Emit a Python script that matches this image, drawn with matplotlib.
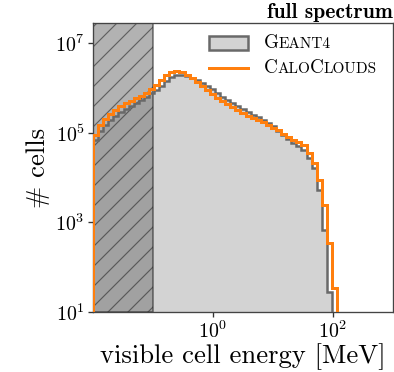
import numpy as np
import matplotlib
matplotlib.use("Agg")
import matplotlib.pyplot as plt
from matplotlib.patches import Patch
from matplotlib.lines import Line2D
from matplotlib.offsetbox import TextArea, HPacker, AnnotationBbox

plt.rcParams["font.family"] = "cmr10"
plt.rcParams["mathtext.fontset"] = "cm"
plt.rcParams["axes.unicode_minus"] = False
plt.rcParams["axes.formatter.use_mathtext"] = True
plt.rcParams["hatch.linewidth"] = 0.7

# log-spaced energy binning [MeV]
bin_edges = np.logspace(-2, 3, 60)

# cell counts per bin
geant4_counts = [
    6.9e4, 1.1e5, 1.48e5, 1.95e5, 2.4e5, 2.95e5, 3.4e5, 4.0e5, 4.7e5, 5.4e5,
    6.3e5, 7.8e5, 9.1e5, 1.12e6, 1.45e6, 1.78e6, 1.95e6, 1.95e6, 1.86e6, 1.66e6,
    1.5e6, 1.29e6, 1.12e6, 9.5e5, 7.8e5, 6.3e5, 5.4e5, 4.7e5, 4.0e5, 3.4e5,
    2.95e5, 2.5e5, 2.2e5, 1.95e5, 1.66e5, 1.41e5, 1.1e5, 8.9e4, 7.4e4, 6.0e4,
    5.1e4, 4.2e4, 2.75e4, 1.6e4, 5.4e3, 680, 28,
]
calo_counts = [
    8.9e4, 1.5e5, 2.0e5, 2.6e5, 3.2e5, 4.0e5, 4.7e5, 5.1e5, 6.0e5, 6.6e5,
    7.8e5, 9.5e5, 1.17e6, 1.5e6, 1.9e6, 2.3e6, 2.4e6, 2.3e6, 1.95e6, 1.66e6,
    1.38e6, 1.12e6, 9.1e5, 7.4e5, 6.0e5, 5.1e5, 4.4e5, 3.8e5, 3.2e5, 2.8e5,
    2.4e5, 2.1e5, 1.95e5, 1.74e5, 1.48e5, 1.29e5, 1.15e5, 9.5e4, 8.1e4, 6.9e4,
    6.3e4, 5.4e4, 3.5e4, 2.1e4, 8.9e3, 2.5e3, 350, 35,
]
threshold = 0.1      # MeV, energies below are shaded
x_range = (0.01, 1000)
y_range = (10, 2.8e7)

legend_labels = [[("G", True), ("EANT4", False)],
                 [("C", True), ("ALO", False), ("C", True), ("LOUDS", False)]]

dpi = 120
fig = plt.figure(figsize=(394 / dpi, 372 / dpi), dpi=dpi)
ax = fig.add_axes([93 / 394, 1 - 312 / 372, 300 / 394, 289 / 372])

g_edges = bin_edges[: len(geant4_counts) + 1]
c_edges = bin_edges[: len(calo_counts) + 1]

ax.stairs(geant4_counts, g_edges, fill=True, baseline=1, color="lightgray", zorder=1)
ax.axvspan(x_range[0], threshold, facecolor="gray", alpha=0.6, hatch="//",
           edgecolor="#2a2a2a", linewidth=1.0, zorder=2)
ax.stairs(geant4_counts, g_edges, baseline=1, color="dimgray", linewidth=1.5, zorder=3)
ax.stairs(calo_counts, c_edges, baseline=1, color="#ff7f0e", linewidth=1.8, zorder=4)

ax.set_xscale("log")
ax.set_yscale("log")
ax.set_xlim(*x_range)
ax.set_ylim(*y_range)
ax.set_xticks([1, 100])
ax.set_yticks([10, 1e3, 1e5, 1e7])
ax.minorticks_off()
ax.tick_params(labelsize=12, length=3, width=0.8, pad=2,
               colors="#333333", labelcolor="black")
for s in ax.spines.values():
    s.set_color("#444444")
    s.set_linewidth(0.8)

ax.set_xlabel("visible cell energy [MeV]", fontsize=16, labelpad=1)
ax.set_ylabel("# cells", fontsize=16, labelpad=3)
ax.set_title("full spectrum", fontsize=13, family="cmb10", loc="right", pad=3)

handles = [Patch(facecolor="lightgray", edgecolor="dimgray", linewidth=1.5),
           Line2D([], [], color="#ff7f0e", linewidth=1.8)]
leg = ax.legend(handles, ["GEANT4", "CALOCLOUDS"], loc="upper left",
                bbox_to_anchor=(0.345, 1.0), frameon=False, fontsize=11,
                handlelength=2.1, handleheight=0.85, handletextpad=0.85,
                labelspacing=0.45, borderaxespad=0.3)

big, small = 11.5, 9.2
for txt, parts in zip(leg.get_texts(), legend_labels):
    txt.set_alpha(0)
    boxes = [TextArea(t, textprops=dict(fontsize=big if b else small, family="cmr10"))
             for t, b in parts]
    packer = HPacker(children=boxes, align="baseline", pad=0, sep=0)
    ab = AnnotationBbox(packer, (0, 0), xycoords=txt, box_alignment=(0, 0),
                        frameon=False, pad=0, zorder=10)
    ax.add_artist(ab)

fig.savefig("out.png", dpi=dpi)
